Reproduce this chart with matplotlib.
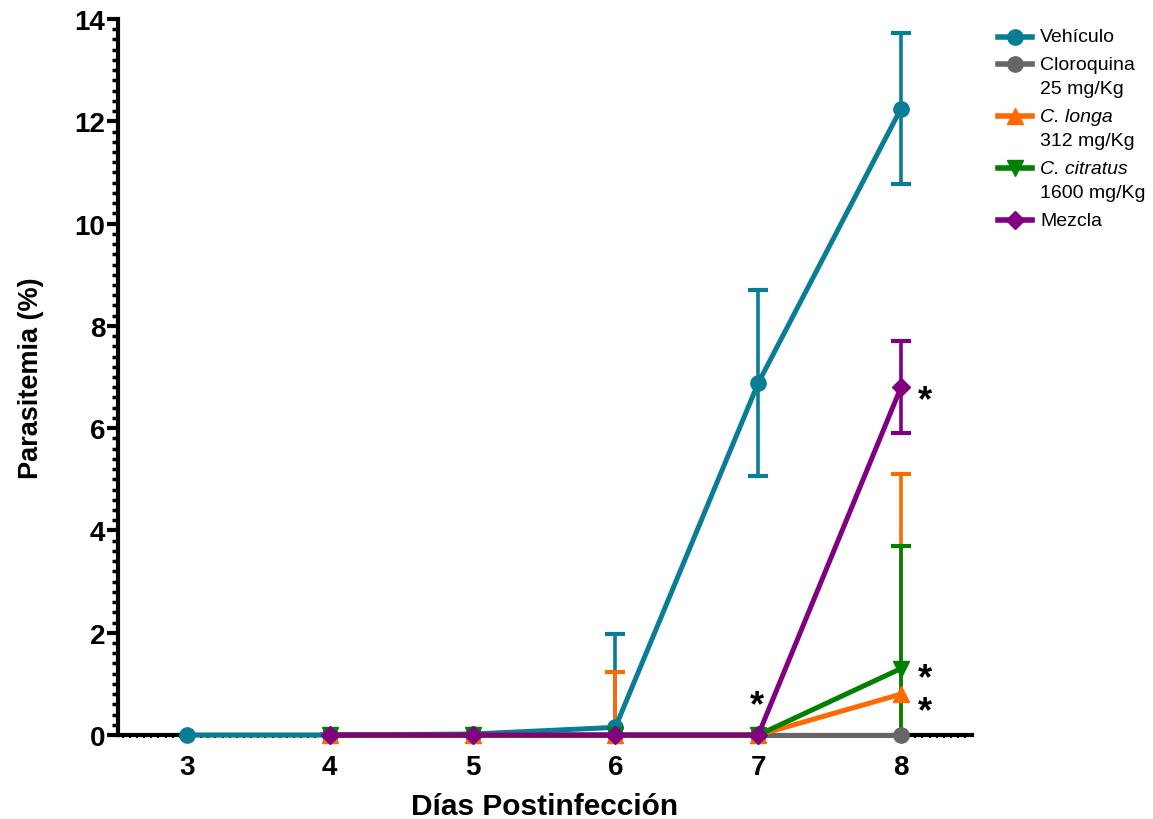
import numpy as np
import matplotlib
matplotlib.use("Agg")
import matplotlib.pyplot as plt
from matplotlib.lines import Line2D
from matplotlib.ticker import MultipleLocator

plt.rcParams['font.family'] = ['Liberation Sans', 'DejaVu Sans']

# days post-infection
dias = [3, 4, 5, 6, 7, 8]
dias_trat = [4, 5, 6, 7, 8]

# means and SD
vehiculo = [0.0, 0.0, 0.02, 0.15, 6.88, 12.25]
vehiculo_err = [0.0, 0.0, 0.0, 1.82, 1.82, 1.47]
cloroquina = [0.0, 0.0, 0.0, 0.0, 0.0]
cloroquina_err = [0.0, 0.0, 0.0, 0.0, 0.0]
c_longa = [0.0, 0.0, 0.0, 0.0, 0.8]
c_longa_err = [0.0, 0.0, 1.23, 0.0, 4.3]
c_citratus = [0.0, 0.0, 0.0, 0.0, 1.3]
c_citratus_err = [0.0, 0.0, 0.0, 0.0, 2.4]
mezcla = [0.0, 0.0, 0.0, 0.0, 6.8]
mezcla_err = [0.0, 0.0, 0.0, 0.0, 0.9]

# significance marks (x, y)
ast_x = [6.99, 8.17, 8.17, 8.17]
ast_y = [0.58, 6.53, 1.11, 0.45]

# legend text: (first line, italic?, second line)
leg_nombres = ['Vehículo', 'Cloroquina', 'C. longa', 'C. citratus', 'Mezcla']
leg_italica = [False, False, True, True, False]
leg_dosis = ['', '25 mg/Kg', '312 mg/Kg', '1600 mg/Kg', '']

series = [
    (dias, vehiculo, vehiculo_err, '#0a7d96', 'o'),
    (dias_trat, cloroquina, cloroquina_err, '#666666', 'o'),
    (dias_trat, c_longa, c_longa_err, '#ff6a00', '^'),
    (dias_trat, c_citratus, c_citratus_err, '#008000', 'v'),
    (dias_trat, mezcla, mezcla_err, '#800080', 'D'),
]

W, H = 1153, 820
fig = plt.figure(figsize=(W / 100, H / 100), dpi=100)
ax = fig.add_axes([0.1023, 0.1024, 0.7407, 0.8732])

for x, y, e, col, mk in series:
    ax.errorbar(x, y, yerr=e, color=col, lw=0, elinewidth=2.6, capsize=7,
                capthick=3, zorder=2, clip_on=True)
    ax.plot(x, y, color=col, lw=3.6, marker=mk,
            markersize=11 if mk != 'D' else 9.5, clip_on=False, zorder=3)

for xa, ya in zip(ast_x, ast_y):
    ax.text(xa, ya, '*', fontsize=26, fontweight='bold', ha='center', va='center')

ax.set_xlim(2.517, 8.497)
ax.set_ylim(0, 14)
ax.set_xticks(dias)
ax.yaxis.set_major_locator(MultipleLocator(2))
ax.yaxis.set_minor_locator(MultipleLocator(0.2))
ax.xaxis.set_minor_locator(MultipleLocator(0.05))

for s in ['top', 'right']:
    ax.spines[s].set_visible(False)
for s in ['left', 'bottom']:
    ax.spines[s].set_linewidth(3)

ax.tick_params(axis='y', which='major', length=8, width=3, labelsize=20, pad=1)
ax.tick_params(axis='y', which='minor', length=4, width=2.5)
ax.tick_params(axis='x', which='major', length=0, labelsize=20, pad=14)
ax.tick_params(axis='x', which='minor', length=2, width=1.5)
for t in ax.get_xticklabels() + ax.get_yticklabels():
    t.set_fontweight('bold')

ax.set_xlabel('Días Postinfección', fontsize=21.5, fontweight='bold', labelpad=8)
ax.set_ylabel('Parasitemia (%)', fontsize=19.5, fontweight='bold', labelpad=22)

# legend built by hand so the symbol sits on the first text line (GraphPad style)
ypx = 38
for (x, y, e, col, mk), nom, ita, dosis in zip(series, leg_nombres, leg_italica, leg_dosis):
    yf = 1 - ypx / H
    fig.add_artist(Line2D([998 / W, 1032 / W], [yf, yf], color=col, lw=4,
                          transform=fig.transFigure))
    fig.add_artist(Line2D([1015 / W], [yf], color=col, marker=mk, lw=0,
                          markersize=11 if mk != 'D' else 9.5,
                          transform=fig.transFigure))
    fig.text(1040 / W, yf, nom, fontsize=14, style='italic' if ita else 'normal',
             va='center', ha='left')
    if dosis:
        ypx += 25
        fig.text(1040 / W, 1 - ypx / H, dosis, fontsize=14, va='center', ha='left')
    ypx += 27

fig.savefig('out.png', dpi=100)
